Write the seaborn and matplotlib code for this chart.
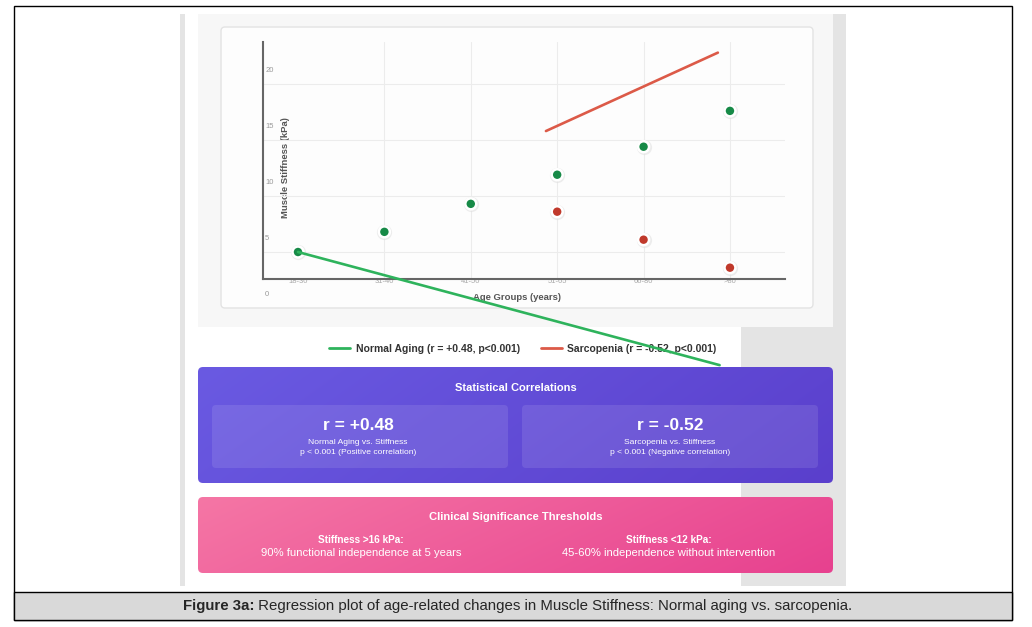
import numpy as np
import pandas as pd
import matplotlib
matplotlib.use("Agg")
import matplotlib.pyplot as plt
import seaborn as sns
from matplotlib.patches import FancyBboxPatch, Rectangle
from matplotlib.lines import Line2D
from matplotlib.colors import to_rgb

# Data
age_groups = ["18-30", "31-40", "41-50", "51-65", "66-80", ">80"]
normal_stiffness = [5.0, 6.8, 9.3, 11.9, 14.4, 17.6]
sarcopenia_groups = ["51-65", "66-80", ">80"]
sarcopenia_stiffness = [8.6, 6.1, 3.6]
y_tick_values = [0, 5, 10, 15, 20]

# regression lines as they were rendered (x in age-group index units)
normal_fit_x = [0.0, 4.88]
normal_fit_y = [5.0, -5.1]
sarcopenia_fit_x = [2.87, 4.86]
sarcopenia_fit_y = [15.8, 22.8]

W, H = 1032, 627
sns.set_theme(style="white")
plt.rcParams["font.family"] = ["Liberation Sans", "DejaVu Sans"]

fig = plt.figure(figsize=(W / 100, H / 100), dpi=100)
fig.patch.set_facecolor("white")

# background axes in pixel coordinates
bg = fig.add_axes([0, 0, 1, 1], zorder=0)
bg.set_xlim(0, W)
bg.set_ylim(H, 0)
bg.axis("off")


def rect(x0, y0, x1, y1, **kw):
    bg.add_patch(Rectangle((x0, y0), x1 - x0, y1 - y0, **kw))


def gradient_box(x0, y0, x1, y1, c_left, c_right, radius=5):
    patch = FancyBboxPatch((x0, y0), x1 - x0, y1 - y0,
                           boxstyle=f"round,pad=0,rounding_size={radius}",
                           facecolor="none", edgecolor="none")
    bg.add_patch(patch)
    xx, yy = np.meshgrid(np.linspace(0, 1, 200), np.linspace(0, 1, 60))
    t = np.clip(0.8 * xx + 0.2 * yy, 0, 1)[..., None]
    img = (1 - t) * np.array(to_rgb(c_left)) + t * np.array(to_rgb(c_right))
    im = bg.imshow(img, extent=(x0, x1, y1, y0), aspect="auto",
                   interpolation="bilinear", zorder=2)
    im.set_clip_path(patch)


# page frame and caption bar
rect(13.5, 5.5, 1011.5, 620, facecolor="white", edgecolor="black", lw=1, zorder=0)
rect(13.5, 592, 1011.5, 620, facecolor="#d9d9d9", edgecolor="black", lw=1, zorder=1)

# screenshot surroundings
rect(180, 14, 185, 586, facecolor="#e4e4e4", lw=0, zorder=1)
rect(833, 14, 846, 586, facecolor="#e4e4e4", lw=0, zorder=1)
rect(741, 327, 846, 586, facecolor="#e4e4e4", lw=0, zorder=1)
rect(198, 14, 833, 327, facecolor="#f7f7f7", lw=0, zorder=1)
bg.add_patch(FancyBboxPatch((221, 27), 592, 281,
                            boxstyle="round,pad=0,rounding_size=4",
                            facecolor="#fdfdfd", edgecolor="#e3e3e3", lw=1, zorder=1.5))

# statistics panels
gradient_box(198, 367, 833, 483, "#6a5ae2", "#5a3fcc")
for bx0, bx1 in [(212, 508), (522, 818)]:
    bg.add_patch(FancyBboxPatch((bx0, 405), bx1 - bx0, 63,
                                boxstyle="round,pad=0,rounding_size=4",
                                facecolor="white", alpha=0.1, edgecolor="none", zorder=3))
gradient_box(198, 497, 833, 573, "#f576a5", "#e7418f")

white = dict(color="white", ha="center", va="center", zorder=4)
bg.text(516, 388, "Statistical Correlations", fontsize=8, fontweight="bold", **white)
bg.text(358, 425, "r = +0.48", fontsize=12.5, fontweight="bold", **white)
bg.text(358, 443, "Normal Aging vs. Stiffness", fontsize=6.1, **white)
bg.text(358, 453, "p < 0.001 (Positive correlation)", fontsize=6.1, **white)
bg.text(670, 425, "r = -0.52", fontsize=12.5, fontweight="bold", **white)
bg.text(670, 443, "Sarcopenia vs. Stiffness", fontsize=6.1, **white)
bg.text(670, 453, "p < 0.001 (Negative correlation)", fontsize=6.1, **white)

bg.text(516, 517, "Clinical Significance Thresholds", fontsize=8.1, fontweight="bold", **white)
bg.text(361, 540, "Stiffness >16 kPa:", fontsize=7.2, fontweight="bold", **white)
bg.text(361, 553, "90% functional independence at 5 years", fontsize=8.1, **white)
bg.text(669, 540, "Stiffness <12 kPa:", fontsize=7.2, fontweight="bold", **white)
bg.text(669, 553, "45-60% independence without intervention", fontsize=8.1, **white)

# caption
cap_b = bg.text(183, 606, "Figure 3a:", fontsize=10.8, fontweight="bold",
                ha="left", va="center", zorder=3)
bg.annotate(" Regression plot of age-related changes in Muscle Stiffness: Normal aging vs. sarcopenia.",
            xy=(1, 0.5), xycoords=cap_b, ha="left", va="center", fontsize=10.8, zorder=3)

# chart axes
ax = fig.add_axes([263 / W, 1 - 279 / H, 522 / W, 237 / H], zorder=1)
ax.patch.set_alpha(0)

df = pd.DataFrame({
    "age": age_groups + sarcopenia_groups,
    "stiffness": normal_stiffness + sarcopenia_stiffness,
    "group": ["Normal Aging"] * len(age_groups) + ["Sarcopenia"] * len(sarcopenia_groups),
})
df["pos"] = df["age"].map({a: i for i, a in enumerate(age_groups)})

# soft halo behind the points, then the points themselves
sns.scatterplot(data=df, x="pos", y="stiffness", color="#dddddd", s=120,
                linewidth=0, alpha=0.5, legend=False, zorder=3, ax=ax)
sns.scatterplot(data=df, x="pos", y="stiffness", hue="group",
                palette={"Normal Aging": "#178a47", "Sarcopenia": "#c0392b"},
                s=62, edgecolor="white", linewidth=1.8, legend=False, zorder=4, ax=ax)
sns.lineplot(x=normal_fit_x, y=normal_fit_y, color="#2eb35c", lw=1.9,
             clip_on=False, zorder=10, ax=ax)
sns.lineplot(x=sarcopenia_fit_x, y=sarcopenia_fit_y, color="#dc5a48", lw=1.9,
             clip_on=False, zorder=10, ax=ax)

ax.set_xlim(-0.405, 5.637)
ax.set_ylim(2.59, 23.75)
ax.set_xticks(range(len(age_groups)))
ax.set_xticklabels(age_groups)
ax.set_yticks(y_tick_values[1:])
ax.tick_params(axis="y", length=0, labelleft=False)
ax.tick_params(axis="x", length=0, pad=-1, labelsize=5.5, labelcolor="#aaaaaa")
ax.grid(True, color="#ececec", lw=0.8)
ax.xaxis.get_gridlines()[0].set_visible(False)
ax.set_axisbelow(True)
for side in ["top", "right"]:
    ax.spines[side].set_visible(False)
for side in ["left", "bottom"]:
    ax.spines[side].set_color("#666666")
    ax.spines[side].set_linewidth(1.5)
ax.set_xlabel("")
ax.set_ylabel("")

for v in y_tick_values:
    ax.annotate(str(v), xy=(0, v), xycoords=("axes fraction", "data"),
                xytext=(1.5, 10), textcoords="offset points", ha="left", va="center",
                fontsize=5.5, color="#999999", annotation_clip=False)

bg.text(285, 168, "Muscle Stiffness (kPa)", rotation=90, fontsize=6.8, fontweight="bold",
        color="#555555", ha="center", va="center", zorder=3)
bg.text(517, 297, "Age Groups (years)", fontsize=6.8, fontweight="bold",
        color="#555555", ha="center", va="center", zorder=3)

handles = [Line2D([], [], color="#2eb35c", lw=2),
           Line2D([], [], color="#dc5a48", lw=2)]
leg = ax.legend(handles, ["Normal Aging (r = +0.48, p<0.001)", "Sarcopenia (r = -0.52, p<0.001)"],
                loc="center", bbox_to_anchor=(523 / W, 1 - 349 / H), bbox_transform=fig.transFigure,
                ncol=2, frameon=False, handlelength=2.0, handletextpad=0.55, columnspacing=2.0,
                prop={"size": 7.5, "weight": "bold"})
for t in leg.get_texts():
    t.set_color("#333333")

fig.savefig("out.png", dpi=100)
